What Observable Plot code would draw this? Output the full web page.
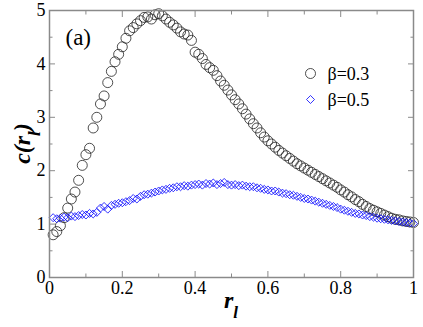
<!DOCTYPE html>
<html><head><meta charset="utf-8">
<script src="https://cdn.jsdelivr.net/npm/d3@7"></script>
<script src="https://cdn.jsdelivr.net/npm/@observablehq/plot@0.6"></script>
<style>
body{margin:0;background:#fff}
svg{display:block}
</style>
</head><body><div id="chart"></div>
<script>
const rl = [0.01,0.02,0.03,0.04,0.05,0.06,0.07,0.08,0.09,0.10,
0.11,0.12,0.13,0.14,0.15,0.16,0.17,0.18,0.19,0.20,
0.21,0.22,0.23,0.24,0.25,0.26,0.27,0.28,0.29,0.30,
0.31,0.32,0.33,0.34,0.35,0.36,0.37,0.38,0.39,0.40,
0.41,0.42,0.43,0.44,0.45,0.46,0.47,0.48,0.49,0.50,
0.51,0.52,0.53,0.54,0.55,0.56,0.57,0.58,0.59,0.60,
0.61,0.62,0.63,0.64,0.65,0.66,0.67,0.68,0.69,0.70,
0.71,0.72,0.73,0.74,0.75,0.76,0.77,0.78,0.79,0.80,
0.81,0.82,0.83,0.84,0.85,0.86,0.87,0.88,0.89,0.90,
0.91,0.92,0.93,0.94,0.95,0.96,0.97,0.98,0.99,1.00];
const c03 = [0.80,0.86,0.97,1.12,1.30,1.47,1.60,1.82,2.10,2.30,
2.42,2.80,3.00,3.25,3.40,3.65,3.86,4.04,4.18,4.32,
4.48,4.62,4.68,4.75,4.81,4.87,4.88,4.84,4.92,4.94,
4.90,4.84,4.78,4.73,4.67,4.60,4.56,4.54,4.44,4.22,
4.18,4.10,3.99,3.93,3.88,3.78,3.68,3.60,3.51,3.42,
3.33,3.25,3.16,3.06,2.97,2.88,2.80,2.71,2.63,2.56,
2.50,2.44,2.38,2.33,2.28,2.23,2.18,2.13,2.09,2.05,
2.01,1.97,1.93,1.89,1.85,1.81,1.77,1.73,1.69,1.64,
1.60,1.55,1.51,1.46,1.42,1.37,1.33,1.29,1.26,1.23,
1.20,1.17,1.14,1.11,1.09,1.08,1.06,1.05,1.04,1.03];
const c05 = [1.12,1.10,1.11,1.13,1.12,1.15,1.14,1.16,1.18,1.17,
1.20,1.19,1.22,1.30,1.33,1.28,1.35,1.37,1.39,1.40,
1.42,1.44,1.48,1.47,1.52,1.55,1.56,1.58,1.60,1.62,
1.64,1.65,1.67,1.68,1.70,1.70,1.72,1.71,1.73,1.74,
1.75,1.73,1.76,1.75,1.77,1.74,1.76,1.78,1.74,1.73,
1.74,1.72,1.73,1.71,1.70,1.70,1.68,1.67,1.65,1.64,
1.62,1.62,1.60,1.58,1.57,1.55,1.54,1.52,1.50,1.48,
1.47,1.45,1.43,1.41,1.39,1.37,1.35,1.33,1.31,1.28,
1.26,1.24,1.22,1.20,1.19,1.17,1.16,1.14,1.13,1.11,
1.10,1.09,1.08,1.07,1.06,1.05,1.04,1.03,1.02,1.01];
const seriesLabels = ["β=0.3", "β=0.5"];
const panelLabel = "(a)";
const xMajor = [0, 0.2, 0.4, 0.6, 0.8, 1];
const xMinor = [0.1, 0.3, 0.5, 0.7, 0.9];
const yMajor = [0, 1, 2, 3, 4, 5];
const yMinor = [0.5, 1.5, 2.5, 3.5, 4.5];

const t03 = rl.map((x, i) => ({x, y: c03[i]}));
const t05 = rl.map((x, i) => ({x, y: c05[i]}));

const axisGray = "#8a8a8a";
const F = "Liberation Serif";

const chart = Plot.plot({
  width: 423, height: 327,
  marginLeft: 49, marginRight: 10, marginTop: 10, marginBottom: 50,
  style: {fontFamily: F, fontSize: "18px", color: "#000", background: "#fff"},
  x: {domain: [0, 1]},
  y: {domain: [0, 5]},
  marks: [
    Plot.dot(t03, {x: "x", y: "y", r: 5, symbol: "circle", stroke: "#222", strokeWidth: 0.8, fill: "none"}),
    Plot.dot(t05, {x: "x", y: "y", r: 3.6, symbol: "diamond2", stroke: "#0000ff", strokeWidth: 0.8, fill: "none"}),
    Plot.frame({stroke: axisGray, strokeWidth: 1.5}),
    // inward ticks
    Plot.axisX({anchor: "bottom", ticks: xMajor, tickSize: -6, fill: "none", label: null, stroke: axisGray}),
    Plot.axisX({anchor: "bottom", ticks: xMinor, tickSize: -3.5, fill: "none", label: null, stroke: axisGray}),
    Plot.axisX({anchor: "top", ticks: xMajor, tickSize: -6, fill: "none", label: null, stroke: axisGray}),
    Plot.axisX({anchor: "top", ticks: xMinor, tickSize: -3.5, fill: "none", label: null, stroke: axisGray}),
    Plot.axisY({anchor: "left", ticks: yMajor, tickSize: -6, fill: "none", label: null, stroke: axisGray}),
    Plot.axisY({anchor: "left", ticks: yMinor, tickSize: -3.5, fill: "none", label: null, stroke: axisGray}),
    Plot.axisY({anchor: "right", ticks: yMajor, tickSize: -6, fill: "none", label: null, stroke: axisGray}),
    Plot.axisY({anchor: "right", ticks: yMinor, tickSize: -3.5, fill: "none", label: null, stroke: axisGray}),
    // tick labels
    Plot.axisX({anchor: "bottom", ticks: xMajor, tickSize: 0, tickPadding: 4, tickFormat: d => String(d), label: null, fontSize: 18, fill: "#000", fontFamily: F}),
    Plot.axisY({anchor: "left", ticks: yMajor, tickSize: 0, tickPadding: 4, tickFormat: d => String(d), label: null, fontSize: 18, fill: "#000", fontFamily: F}),
    // panel label
    Plot.text([panelLabel], {frameAnchor: "top-left", dx: 16, dy: 27.6, textAnchor: "start", lineAnchor: "middle", fontSize: 23, fill: "#000", fontFamily: F}),
    // legend
    Plot.dot([0], {frameAnchor: "top-right", dx: -103, dy: 63, r: 5, symbol: "circle", stroke: "#222", strokeWidth: 0.8, fill: "none"}),
    Plot.dot([0], {frameAnchor: "top-right", dx: -103, dy: 89, r: 3.6, symbol: "diamond2", stroke: "#0000ff", strokeWidth: 0.8, fill: "none"}),
    Plot.text([seriesLabels[0]], {frameAnchor: "top-right", dx: -86, dy: 64, textAnchor: "start", lineAnchor: "middle", fontSize: 18, fill: "#000", fontFamily: F}),
    Plot.text([seriesLabels[1]], {frameAnchor: "top-right", dx: -86, dy: 90, textAnchor: "start", lineAnchor: "middle", fontSize: 18, fill: "#000", fontFamily: F})
  ]
});

document.getElementById("chart").appendChild(chart);

// axis titles with subscripts
const xs = chart.scale("x"), ys = chart.scale("y");
const svg = d3.select(chart);
svg.attr("font-family", F);
const cx = (xs.range[0] + xs.range[1]) / 2;
const cy = (ys.range[0] + ys.range[1]) / 2;
const xt = svg.append("text")
  .attr("x", cx).attr("y", ys.range[0] + 31)
  .attr("text-anchor", "middle")
  .attr("font-weight", "bold").attr("font-style", "italic")
  .attr("font-size", 24).attr("fill", "#000");
xt.append("tspan").text("r");
xt.append("tspan").attr("font-size", 17).attr("dy", 10).text("l");

const yt = svg.append("text")
  .attr("transform", `translate(${xs.range[0] - 19},${cy}) rotate(-90)`)
  .attr("text-anchor", "middle")
  .attr("font-weight", "bold").attr("font-style", "italic")
  .attr("font-size", 24).attr("fill", "#000");
yt.append("tspan").text("c(r");
yt.append("tspan").attr("font-size", 17).attr("dy", 10).text("l");
yt.append("tspan").attr("dy", -10).text(")");
svg.selectAll("g, text, tspan").attr("font-family", F).each(function() {
  this.style.setProperty("font-family", "'Liberation Serif', serif", "important");
});
chart.style.setProperty("font-family", "'Liberation Serif', serif", "important");
</script>
</body></html>
